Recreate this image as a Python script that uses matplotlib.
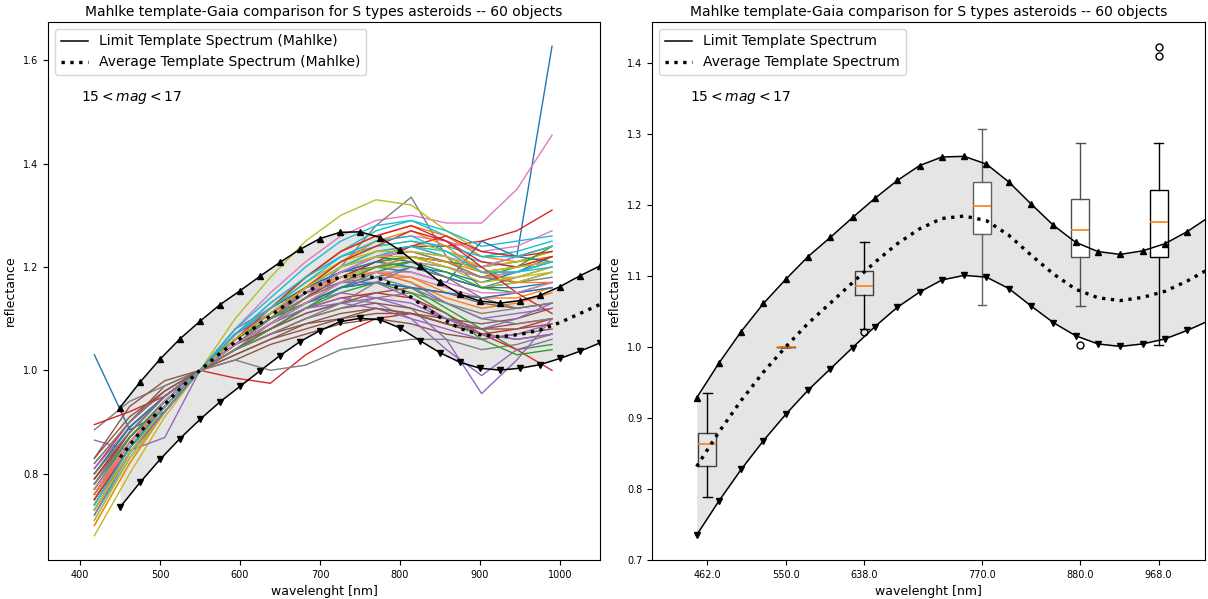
import numpy as np
import matplotlib.pyplot as plt
from matplotlib.lines import Line2D

# Mahlke S-type template (25 nm grid)
tmpl_wl = [450, 475, 500, 525, 550, 575, 600, 625, 650, 675, 700, 725, 750,
           775, 800, 825, 850, 875, 900, 925, 950, 975, 1000, 1025, 1050]
tmpl_upper = [0.928, 0.977, 1.0215, 1.061, 1.095, 1.127, 1.154, 1.182, 1.209,
              1.234, 1.255, 1.267, 1.268, 1.257, 1.232, 1.201, 1.171, 1.147,
              1.134, 1.130, 1.135, 1.145, 1.162, 1.183, 1.202]
tmpl_lower = [0.735, 0.783, 0.8275, 0.868, 0.905, 0.939, 0.969, 0.999, 1.0285,
              1.0555, 1.077, 1.094, 1.1005, 1.098, 1.082, 1.0575, 1.034, 1.0155,
              1.004, 1.0005, 1.004, 1.011, 1.023, 1.037, 1.053]
tmpl_mean = [0.8315, 0.880, 0.9245, 0.9645, 1.000, 1.033, 1.0615, 1.0905, 1.119,
             1.145, 1.166, 1.1805, 1.184, 1.1775, 1.157, 1.129, 1.1025, 1.081,
             1.069, 1.065, 1.0695, 1.078, 1.0925, 1.110, 1.1275]

# Gaia reflectance spectra, normalised at 550 nm
gaia_wl = [418, 462, 506, 550, 594, 638, 682, 726, 770, 814, 858, 902, 946, 990]
spectra = [
    [1.03, 0.885, 0.92, 1.00, 1.07, 1.11, 1.15, 1.18, 1.20, 1.22, 1.21, 1.20, 1.22, 1.627],
    [0.74, 0.84, 0.93, 1.00, 1.06, 1.10, 1.16, 1.20, 1.23, 1.24, 1.22, 1.19, 1.20, 1.22],
    [0.78, 0.87, 0.94, 1.00, 1.04, 1.08, 1.12, 1.15, 1.17, 1.16, 1.12, 1.08, 1.04, 1.05],
    [0.77, 0.86, 0.93, 1.00, 1.05, 1.10, 1.15, 1.19, 1.22, 1.24, 1.24, 1.25, 1.27, 1.31],
    [0.75, 0.85, 0.92, 1.00, 1.06, 1.10, 1.13, 1.15, 1.14, 1.12, 1.06, 0.955, 1.02, 1.10],
    [0.82, 0.90, 0.97, 1.00, 1.03, 1.06, 1.08, 1.10, 1.12, 1.11, 1.10, 1.09, 1.10, 1.12],
    [0.76, 0.86, 0.93, 1.00, 1.08, 1.15, 1.21, 1.26, 1.29, 1.30, 1.285, 1.285, 1.35, 1.455],
    [0.885, 0.94, 0.97, 1.00, 1.04, 1.09, 1.14, 1.20, 1.28, 1.335, 1.22, 1.16, 1.18, 1.20],
    [0.68, 0.80, 0.91, 1.00, 1.10, 1.18, 1.25, 1.30, 1.33, 1.32, 1.27, 1.23, 1.22, 1.24],
    [0.72, 0.83, 0.92, 1.00, 1.07, 1.12, 1.18, 1.23, 1.27, 1.29, 1.26, 1.22, 1.23, 1.25],
    [0.74, 0.85, 0.93, 1.00, 1.06, 1.11, 1.16, 1.20, 1.22, 1.21, 1.18, 1.16, 1.17, 1.19],
    [0.73, 0.84, 0.92, 1.00, 1.07, 1.12, 1.18, 1.23, 1.26, 1.28, 1.26, 1.22, 1.21, 1.22],
    [0.80, 0.88, 0.95, 1.00, 1.05, 1.10, 1.15, 1.19, 1.21, 1.22, 1.20, 1.18, 1.19, 1.21],
    [0.81, 0.90, 0.96, 1.00, 0.985, 0.975, 1.03, 1.07, 1.10, 1.11, 1.09, 1.07, 1.08, 1.10],
    [0.865, 0.845, 0.87, 1.00, 1.08, 1.12, 1.16, 1.18, 1.19, 1.17, 1.13, 1.10, 1.11, 1.12],
    [0.83, 0.93, 0.98, 1.00, 1.02, 1.05, 1.07, 1.09, 1.10, 1.09, 1.07, 1.06, 1.07, 1.08],
    [0.79, 0.87, 0.94, 1.00, 1.05, 1.09, 1.13, 1.16, 1.18, 1.18, 1.16, 1.14, 1.15, 1.16],
    [0.79, 0.88, 0.95, 1.00, 1.02, 1.00, 1.01, 1.04, 1.05, 1.06, 1.06, 1.04, 1.05, 1.07],
    [0.70, 0.82, 0.92, 1.00, 1.06, 1.11, 1.16, 1.20, 1.23, 1.23, 1.21, 1.18, 1.18, 1.20],
    [0.75, 0.86, 0.94, 1.00, 1.05, 1.10, 1.15, 1.19, 1.22, 1.24, 1.23, 1.21, 1.20, 1.21],
    [0.77, 0.87, 0.94, 1.00, 1.05, 1.09, 1.13, 1.16, 1.18, 1.20, 1.19, 1.17, 1.19, 1.22],
    [0.75, 0.86, 0.93, 1.00, 1.06, 1.10, 1.14, 1.17, 1.19, 1.18, 1.15, 1.14, 1.14, 1.16],
    [0.74, 0.85, 0.93, 1.00, 1.06, 1.10, 1.14, 1.18, 1.21, 1.22, 1.21, 1.20, 1.21, 1.23],
    [0.78, 0.87, 0.94, 1.00, 1.04, 1.08, 1.12, 1.14, 1.15, 1.14, 1.11, 1.07, 1.04, 1.00],
    [0.76, 0.86, 0.93, 1.00, 1.05, 1.09, 1.12, 1.14, 1.13, 1.10, 1.04, 0.99, 1.04, 1.06],
    [0.80, 0.89, 0.95, 1.00, 1.04, 1.07, 1.10, 1.12, 1.13, 1.12, 1.10, 1.08, 1.09, 1.10],
    [0.73, 0.84, 0.92, 1.00, 1.07, 1.13, 1.18, 1.22, 1.25, 1.26, 1.25, 1.23, 1.24, 1.27],
    [0.82, 0.90, 0.96, 1.00, 1.04, 1.07, 1.10, 1.12, 1.14, 1.15, 1.13, 1.10, 1.09, 1.10],
    [0.72, 0.84, 0.93, 1.00, 1.07, 1.12, 1.17, 1.21, 1.24, 1.25, 1.23, 1.20, 1.21, 1.23],
    [0.71, 0.83, 0.92, 1.00, 1.08, 1.14, 1.20, 1.25, 1.28, 1.29, 1.27, 1.24, 1.25, 1.26],
    [0.76, 0.86, 0.93, 1.00, 1.06, 1.11, 1.16, 1.19, 1.20, 1.19, 1.17, 1.25, 1.22, 1.21],
    [0.70, 0.82, 0.92, 1.00, 1.07, 1.12, 1.16, 1.18, 1.19, 1.17, 1.14, 1.12, 1.13, 1.15],
    [0.79, 0.88, 0.95, 1.00, 1.04, 1.08, 1.12, 1.16, 1.19, 1.21, 1.20, 1.18, 1.20, 1.24],
    [0.895, 0.92, 0.95, 1.00, 1.06, 1.10, 1.14, 1.18, 1.21, 1.24, 1.26, 1.23, 1.22, 1.23],
    [0.77, 0.86, 0.93, 1.00, 1.05, 1.09, 1.12, 1.13, 1.12, 1.10, 1.08, 1.06, 1.07, 1.09],
    [0.78, 0.88, 0.95, 1.00, 1.04, 1.07, 1.09, 1.10, 1.11, 1.11, 1.09, 1.07, 1.06, 1.07],
    [0.74, 0.85, 0.93, 1.00, 1.06, 1.10, 1.15, 1.18, 1.20, 1.21, 1.20, 1.18, 1.19, 1.21],
    [0.76, 0.86, 0.94, 1.00, 1.05, 1.10, 1.15, 1.19, 1.22, 1.23, 1.21, 1.18, 1.17, 1.18],
    [0.74, 0.85, 0.93, 1.00, 1.06, 1.11, 1.15, 1.18, 1.20, 1.20, 1.18, 1.16, 1.17, 1.19],
    [0.78, 0.87, 0.94, 1.00, 1.06, 1.11, 1.16, 1.20, 1.23, 1.24, 1.22, 1.19, 1.19, 1.20],
    [0.73, 0.84, 0.92, 1.00, 1.07, 1.12, 1.16, 1.19, 1.21, 1.20, 1.18, 1.16, 1.16, 1.17],
    [0.77, 0.87, 0.94, 1.00, 1.05, 1.09, 1.13, 1.17, 1.20, 1.22, 1.21, 1.19, 1.20, 1.21],
    [0.75, 0.85, 0.93, 1.00, 1.06, 1.10, 1.13, 1.16, 1.17, 1.15, 1.11, 1.06, 1.03, 1.04],
    [0.79, 0.88, 0.95, 1.00, 1.06, 1.12, 1.18, 1.23, 1.26, 1.28, 1.25, 1.21, 1.20, 1.22],
    [0.81, 0.89, 0.95, 1.00, 1.05, 1.08, 1.11, 1.13, 1.14, 1.13, 1.10, 1.07, 1.06, 1.07],
    [0.76, 0.86, 0.94, 1.00, 1.05, 1.08, 1.11, 1.13, 1.15, 1.16, 1.15, 1.13, 1.12, 1.13],
    [0.75, 0.86, 0.93, 1.00, 1.06, 1.11, 1.15, 1.19, 1.22, 1.23, 1.22, 1.20, 1.22, 1.24],
    [0.78, 0.87, 0.94, 1.00, 1.05, 1.10, 1.14, 1.17, 1.18, 1.16, 1.13, 1.11, 1.12, 1.13],
    [0.71, 0.83, 0.92, 1.00, 1.07, 1.12, 1.17, 1.21, 1.23, 1.23, 1.22, 1.19, 1.20, 1.21],
    [0.73, 0.84, 0.93, 1.00, 1.07, 1.13, 1.18, 1.22, 1.24, 1.25, 1.24, 1.22, 1.22, 1.24],
    [0.80, 0.89, 0.95, 1.00, 1.05, 1.09, 1.13, 1.16, 1.17, 1.16, 1.15, 1.14, 1.15, 1.16],
    [0.76, 0.86, 0.93, 1.00, 1.06, 1.11, 1.16, 1.21, 1.25, 1.27, 1.24, 1.19, 1.17, 1.17],
    [0.77, 0.87, 0.94, 1.00, 1.05, 1.09, 1.13, 1.17, 1.20, 1.21, 1.19, 1.16, 1.15, 1.17],
    [0.75, 0.85, 0.93, 1.00, 1.06, 1.11, 1.16, 1.21, 1.24, 1.27, 1.25, 1.20, 1.15, 1.11],
    [0.72, 0.84, 0.92, 1.00, 1.07, 1.11, 1.15, 1.17, 1.17, 1.14, 1.10, 1.08, 1.10, 1.13],
    [0.83, 0.91, 0.96, 1.00, 1.03, 1.06, 1.09, 1.11, 1.12, 1.11, 1.09, 1.08, 1.08, 1.09],
    [0.77, 0.86, 0.94, 1.00, 1.05, 1.09, 1.13, 1.17, 1.19, 1.19, 1.17, 1.15, 1.15, 1.17],
    [0.80, 0.88, 0.95, 1.00, 1.04, 1.07, 1.10, 1.13, 1.17, 1.20, 1.18, 1.14, 1.12, 1.13],
    [0.73, 0.84, 0.93, 1.00, 1.06, 1.11, 1.16, 1.20, 1.22, 1.22, 1.20, 1.17, 1.18, 1.19],
    [0.74, 0.85, 0.93, 1.00, 1.07, 1.12, 1.17, 1.22, 1.25, 1.26, 1.23, 1.19, 1.19, 1.21],
]

# box statistics of the sample at selected wavelengths
box_pos = [462.0, 550.0, 638.0, 770.0, 880.0, 968.0]
box_whislo = [0.789, 1.000, 1.025, 1.0585, 1.0575, 1.003]
box_q1 = [0.8327, 1.000, 1.073, 1.158, 1.126, 1.126]
box_med = [0.863, 1.000, 1.085, 1.198, 1.164, 1.175]
box_q3 = [0.879, 1.000, 1.1066, 1.232, 1.208, 1.2206]
box_whishi = [0.9355, 1.000, 1.147, 1.306, 1.2866, 1.2866]
box_fliers = [[], [], [1.021], [], [1.002], [1.4225, 1.4086]]

title = 'Mahlke template-Gaia comparison for S types asteroids -- 60 objects'

fig = plt.figure(figsize=(12.08, 5.99), dpi=100)
ax1 = fig.add_axes([48/1208, 39/599, 552/1208, 538/599])
ax2 = fig.add_axes([652/1208, 39/599, 553/1208, 538/599])


def draw_template(ax):
    ax.fill_between(tmpl_wl, tmpl_lower, tmpl_upper, color='gray', alpha=0.2,
                    lw=0, zorder=1)
    ax.plot(tmpl_wl, tmpl_upper, 'k-', marker='^', ms=4.5, lw=1.1, zorder=4)
    ax.plot(tmpl_wl, tmpl_lower, 'k-', marker='v', ms=4.5, lw=1.1, zorder=4)
    ax.plot(tmpl_wl, tmpl_mean, 'k:', lw=2.4, zorder=4)


# left panel: all spectra
for s in spectra:
    ax1.plot(gaia_wl, s, lw=1.0, zorder=2)
draw_template(ax1)
ax1.set_xlim(360, 1050)
ax1.set_ylim(0.633, 1.674)

# right panel: box plots over the template
stats = []
for i in range(len(box_pos)):
    stats.append(dict(med=box_med[i], q1=box_q1[i], q3=box_q3[i],
                      whislo=box_whislo[i], whishi=box_whishi[i],
                      fliers=box_fliers[i]))

flierprops = dict(marker='o', markerfacecolor='none', markeredgecolor='k', ms=5)
medianprops = dict(color='#ff7f0e', lw=1.2)
ax2.bxp(stats[:3], positions=box_pos[:3], widths=20, manage_ticks=False,
        flierprops=flierprops, medianprops=medianprops,
        boxprops=dict(color='#404040'), zorder=2)
bp = ax2.bxp(stats[3:], positions=box_pos[3:], widths=20, manage_ticks=False,
             patch_artist=True, flierprops=flierprops, medianprops=medianprops,
             zorder=2, boxprops=dict(facecolor='white'))
for i, c in enumerate(['#606060', '#505050', 'k']):
    bp['boxes'][i].set_edgecolor(c)
    for ln in bp['whiskers'][2*i:2*i+2] + bp['caps'][2*i:2*i+2]:
        ln.set_color(c)
draw_template(ax2)
ax2.set_xticks(box_pos)
ax2.set_xticklabels([str(p) for p in box_pos])
ax2.set_xlim(400, 1020)
ax2.set_ylim(0.7, 1.457)

legend_labels = [
    ['Limit Template Spectrum (Mahlke)', 'Average Template Spectrum (Mahlke)'],
    ['Limit Template Spectrum', 'Average Template Spectrum'],
]
for ax, labels, tx in zip([ax1, ax2], legend_labels, [0.06, 0.069]):
    handles = [Line2D([], [], color='k', lw=1.1),
               Line2D([], [], color='k', ls=':', lw=2.4)]
    ax.legend(handles, labels, loc='upper left', fontsize=10)
    ax.text(tx, 0.86, r'$15 < mag < 17$', transform=ax.transAxes,
            fontsize=10, va='center')
    ax.set_title(title, fontsize=10, pad=4)
    ax.set_xlabel('wavelenght [nm]', fontsize=9)
    ax.set_ylabel('reflectance', fontsize=9)
    ax.tick_params(labelsize=7)

fig.savefig('out.png', dpi=100)
